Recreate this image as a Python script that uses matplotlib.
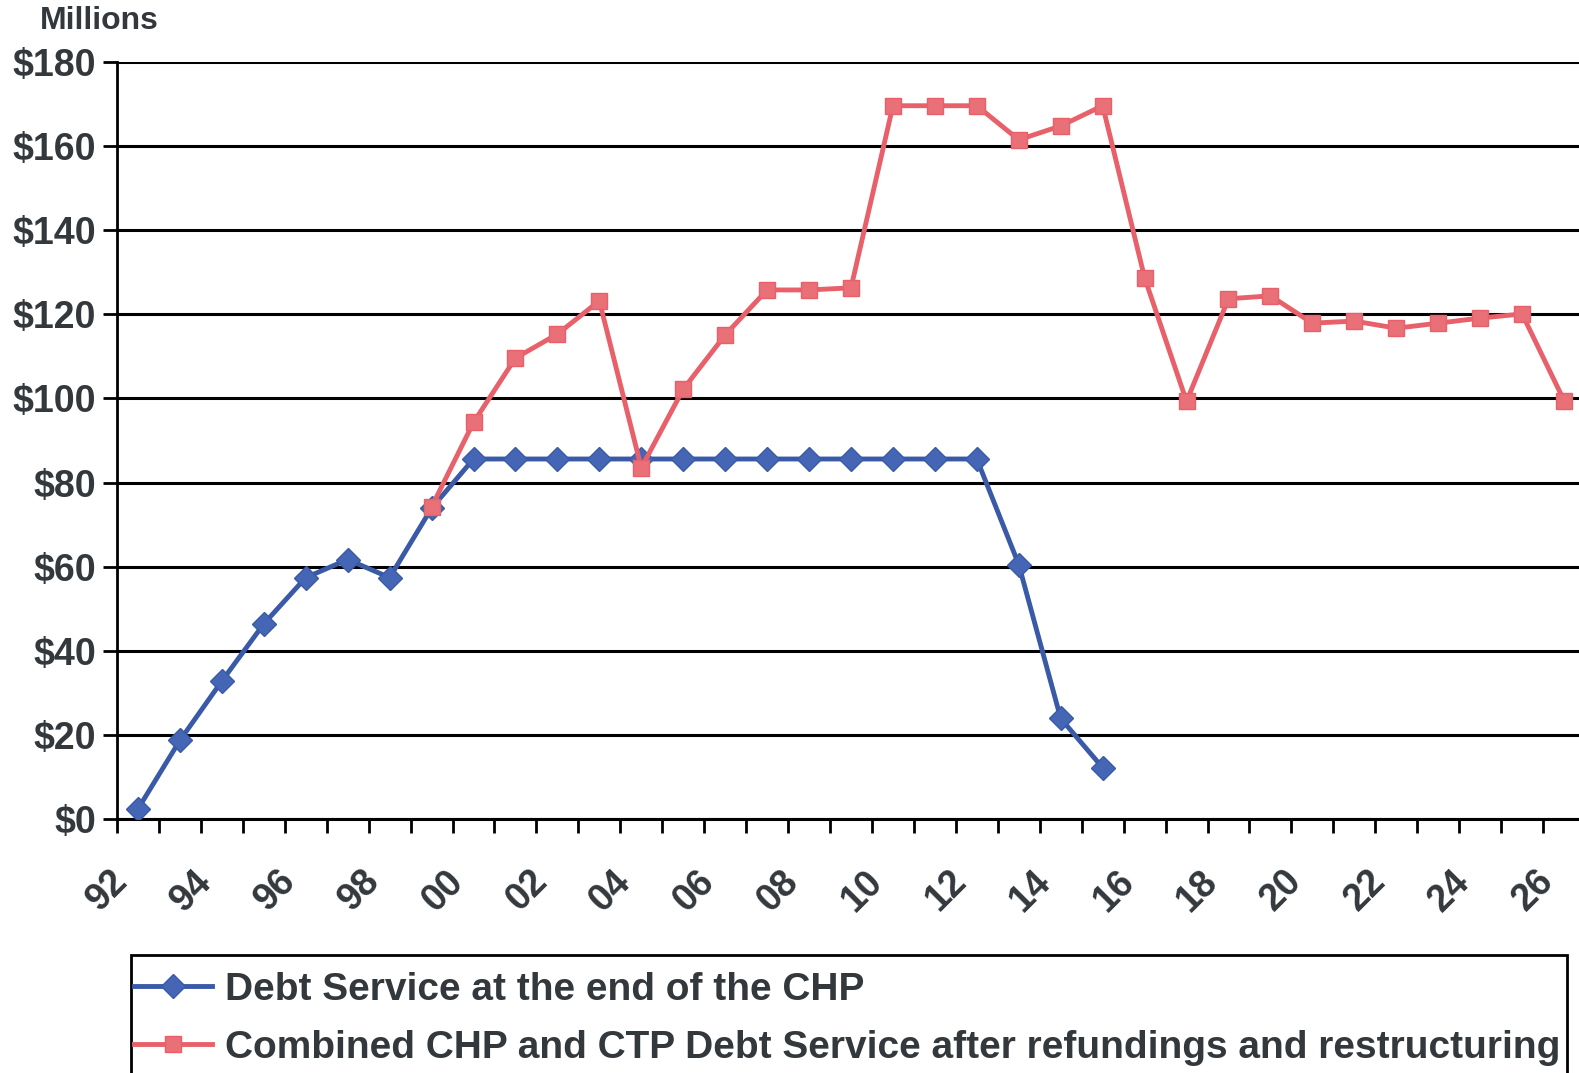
import numpy as np
import matplotlib.pyplot as plt
from matplotlib.patches import Rectangle
from matplotlib.transforms import ScaledTranslation

plt.rcParams['font.family'] = ['Liberation Sans', 'DejaVu Sans']
plt.rcParams['font.weight'] = 'bold'

years = ['92', '93', '94', '95', '96', '97', '98', '99', '00', '01', '02', '03',
         '04', '05', '06', '07', '08', '09', '10', '11', '12', '13', '14', '15',
         '16', '17', '18', '19', '20', '21', '22', '23', '24', '25', '26']

nan = np.nan
chp_end = [2.4, 18.7, 32.8, 46.4, 57.4, 61.7, 57.4, 73.9, 85.6, 85.6, 85.6, 85.6,
           85.6, 85.6, 85.6, 85.6, 85.6, 85.6, 85.6, 85.6, 85.6, 60.5, 23.9, 12.2,
           nan, nan, nan, nan, nan, nan, nan, nan, nan, nan, nan]
combined = [nan, nan, nan, nan, nan, nan, nan, 74.2, 94.3, 109.6, 115.3, 123.2,
            83.5, 102.2, 115.1, 125.8, 125.8, 126.3, 169.6, 169.6, 169.6, 161.5, 164.8, 169.6,
            128.7, 99.3, 123.7, 124.4, 117.9, 118.4, 116.7, 117.9, 119.1, 120.1, 99.5]

label1 = 'Debt Service at the end of the CHP'
label2 = 'Combined CHP and CTP Debt Service after refundings and restructuring'

W, H = 1579, 1073
fig = plt.figure(figsize=(W / 100, H / 100), dpi=100)
# axes in pixel terms: left 117, right 1585 (past edge), top 62, bottom 819
ax = fig.add_axes([117 / W, 1 - 819 / H, (1585 - 117) / W, (819 - 62) / H])

x = np.arange(len(years))
txt = '#33383d'

ax.plot(x, chp_end, color='#3a5aa8', lw=3.5, marker='D', ms=12,
        mfc='#4466b4', mec='#3a5aa8', label=label1, zorder=3)
ax.plot(x, combined, color='#e8606a', lw=3.5, marker='s', ms=12,
        mfc='#ea7078', mec='#e8606a', label=label2, zorder=3)

ax.set_xlim(-0.5, len(years) - 0.5)
ax.set_ylim(0, 180)
ax.set_yticks(np.arange(0, 181, 20))
ax.set_yticklabels(['$%d' % v for v in range(0, 181, 20)])
ax.grid(axis='y', color='black', lw=2.2)
ax.set_axisbelow(True)

# tick marks at category boundaries, labels at every other category
ax.set_xticks(np.arange(-0.5, len(years), 1.0))
ax.set_xticklabels([])
ax.set_xticks(x[::2], minor=True)
ax.set_xticklabels(years[::2], minor=True, rotation=45, ha='right', va='center',
                   rotation_mode='anchor')
ax.tick_params(axis='x', which='major', length=10, width=2, direction='out')
ax.tick_params(axis='x', which='minor', length=0, pad=41, labelsize=27, labelcolor=txt)
ax.tick_params(axis='y', length=10, width=2, direction='out', pad=5,
               labelsize=27, labelcolor=txt)
shift = ScaledTranslation(-0.16, 0, fig.dpi_scale_trans)
for lab in ax.get_xticklabels(minor=True):
    lab.set_transform(lab.get_transform() + shift)

for s in ['top', 'right']:
    ax.spines[s].set_visible(False)
ax.spines['left'].set_linewidth(2)
ax.spines['bottom'].set_linewidth(2.2)

fig.text(40 / W, 1 - 21 / H, 'Millions', fontsize=23, color=txt, va='center', ha='left')

# legend frame runs off the bottom of the picture
frame = Rectangle((131 / W, -0.05), (1567 - 131) / W, (1 - 955 / H) + 0.05,
                  transform=fig.transFigure, fill=False, ec='black', lw=2)
fig.patches.append(frame)
leg = fig.legend(loc='upper left', bbox_to_anchor=(134 / W, 1 - 972 / H),
                 fontsize=28, frameon=False, handlelength=2.0, handletextpad=0.35,
                 borderpad=0, labelspacing=0.56, borderaxespad=0)
for t in leg.get_texts():
    t.set_color(txt)

fig.savefig('out.png', dpi=100)
